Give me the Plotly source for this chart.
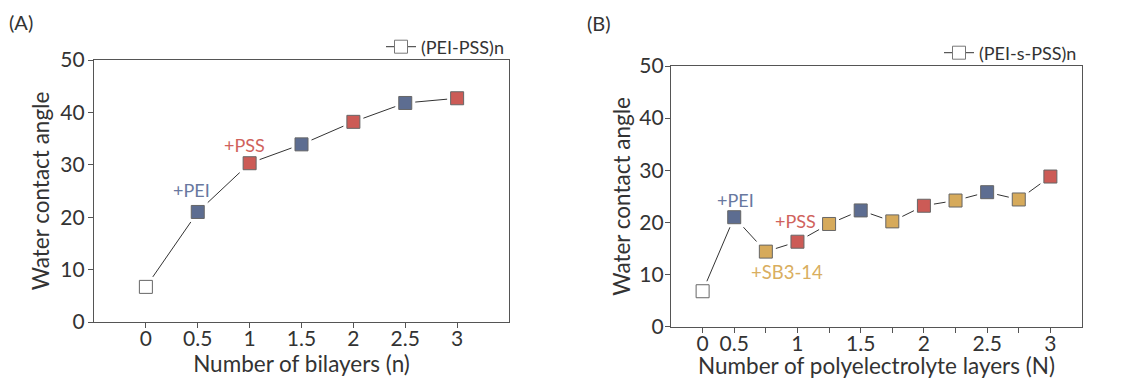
import plotly.graph_objects as go

# ---- Data ----
bilayers_A = [0, 0.5, 1, 1.5, 2, 2.5, 3]
angle_A = [6.7, 21.0, 30.3, 33.9, 38.2, 41.8, 42.7]
colors_A = ["#FFFFFF", "#5D6D91", "#CC5B56", "#5D6D91", "#CC5B56", "#5D6D91", "#CC5B56"]

layers_B = ["0", "0.5", "0.75", "1", "1.25", "1.5", "1.75", "2", "2.25", "2.5", "2.75", "3"]
ticktext_B = ["0", "0.5", "", "1", "", "1.5", "", "2", "", "2.5", "", "3"]
angle_B = [6.8, 21.0, 14.4, 16.3, 19.7, 22.3, 20.2, 23.2, 24.2, 25.8, 24.4, 28.8]
colors_B = ["#FFFFFF", "#5D6D91", "#D6AA5B", "#CC5B56", "#D6AA5B", "#5D6D91", "#D6AA5B",
            "#CC5B56", "#D6AA5B", "#5D6D91", "#D6AA5B", "#CC5B56"]

FONT = "Lato"
TXT = "#333333"
AX = "#555555"

# page body has an 8px margin; figure occupies the rest of the 1121x379 window
OFF = 8
W, H = 1121 - OFF, 379 - OFF
def px(x):
    return (x - OFF) / W
def py(y):
    return 1 - (y - OFF) / H

fig = go.Figure()

def add_series(x, y, colors, xa, ya, name, legend):
    fig.add_trace(go.Scatter(x=x, y=y, mode="lines", xaxis=xa, yaxis=ya,
                             line=dict(color="#333333", width=1), showlegend=False,
                             hoverinfo="skip"))
    fig.add_trace(go.Scatter(x=x, y=y, mode="markers", xaxis=xa, yaxis=ya,
                             marker=dict(symbol="square", size=20, color="white", line=dict(width=0)),
                             showlegend=False, hoverinfo="skip"))
    fig.add_trace(go.Scatter(x=x, y=y, mode="markers", xaxis=xa, yaxis=ya,
                             marker=dict(symbol="square", size=13, color=colors,
                                         line=dict(color="#666666", width=1)),
                             showlegend=False))
    fig.add_trace(go.Scatter(x=[None], y=[None], mode="lines+markers", xaxis=xa, yaxis=ya,
                             name=name, legend=legend,
                             line=dict(color="#333333", width=1),
                             marker=dict(symbol="square", size=13, color="white",
                                         line=dict(color="#777777", width=1))))

add_series(bilayers_A, angle_A, colors_A, "x", "y", "(PEI-PSS)n", "legend")
add_series(layers_B, angle_B, colors_B, "x2", "y2", "(PEI-s-PSS)n", "legend2")

TICKF = dict(family=FONT, size=21, color=TXT)
TITLEF = dict(family=FONT, size=22.5, color=TXT)
axis_common = dict(showline=True, linecolor=AX, linewidth=1.2, mirror=True, ticks="outside",
                   ticklen=5, tickcolor=AX, showgrid=False, zeroline=False, automargin=False,
                   tickfont=TICKF)

fig.update_layout(
    width=W, height=H,
    margin=dict(l=0, r=0, t=0, b=0, autoexpand=False),
    paper_bgcolor="white", plot_bgcolor="white",
    font=dict(family=FONT, color=TXT),
    xaxis=dict(domain=[px(94), px(509)], range=[-0.5, 3.5], tickvals=bilayers_A,
               ticktext=["0", "0.5", "1", "1.5", "2", "2.5", "3"], ticklabelstandoff=-7,
               title=dict(text="Number of bilayers (n)", font=TITLEF, standoff=5),
               anchor="y", **axis_common),
    yaxis=dict(domain=[py(322), py(60)], range=[0, 50], tickvals=[0, 10, 20, 30, 40, 50],
               ticklabelstandoff=-1,
               title=dict(text="Water contact angle", font=TITLEF, standoff=4),
               anchor="x", **axis_common),
    xaxis2=dict(domain=[px(671), px(1082)], type="category", range=[-1, 12],
                categoryorder="array", categoryarray=layers_B,
                tickvals=layers_B, ticktext=ticktext_B, ticklabelstandoff=-7,
                title=dict(text="Number of polyelectrolyte layers (N)", font=TITLEF, standoff=5),
                anchor="y2", **axis_common),
    yaxis2=dict(domain=[py(326.7), py(66)], range=[0, 50], tickvals=[0, 10, 20, 30, 40, 50],
                ticklabelstandoff=-3,
                title=dict(text="Water contact angle", font=TITLEF, standoff=2),
                anchor="x2", **axis_common),
    legend=dict(x=px(509), y=py(47), xanchor="right", yanchor="middle",
                font=dict(family=FONT, size=18, color=TXT), bgcolor="rgba(0,0,0,0)",
                itemwidth=30),
    legend2=dict(x=px(1082), y=py(53), xanchor="right", yanchor="middle",
                 font=dict(family=FONT, size=18, color=TXT), bgcolor="rgba(0,0,0,0)",
                 itemwidth=30),
)

ann = [
    dict(text="(A)", x=px(7), y=py(22), xref="paper", yref="paper", xanchor="left", yanchor="middle",
         showarrow=False, font=dict(family=FONT, size=20, color=TXT)),
    dict(text="(B)", x=px(585), y=py(23), xref="paper", yref="paper", xanchor="left", yanchor="middle",
         showarrow=False, font=dict(family=FONT, size=20, color=TXT)),
    dict(text="+PEI", x=bilayers_A[1], y=angle_A[1], xref="x", yref="y", xshift=-6, yshift=22,
         showarrow=False, font=dict(family=FONT, size=18, color="#6878A0")),
    dict(text="+PSS", x=bilayers_A[2], y=angle_A[2], xref="x", yref="y", xshift=-5, yshift=18,
         showarrow=False, font=dict(family=FONT, size=18, color="#D0625C")),
    dict(text="+PEI", x=1, y=angle_B[1], xref="x2", yref="y2", xshift=1, yshift=17,
         showarrow=False, font=dict(family=FONT, size=18, color="#6878A0")),
    dict(text="+PSS", x=3, y=angle_B[3], xref="x2", yref="y2", xshift=-2, yshift=21,
         showarrow=False, font=dict(family=FONT, size=18, color="#D0625C")),
    dict(text="+SB3-14", x=2, y=angle_B[2], xref="x2", yref="y2", xshift=21, yshift=-20,
         showarrow=False, font=dict(family=FONT, size=18.5, color="#D9AE60")),
]
fig.update_layout(annotations=ann)

fig.write_html("out.html")
